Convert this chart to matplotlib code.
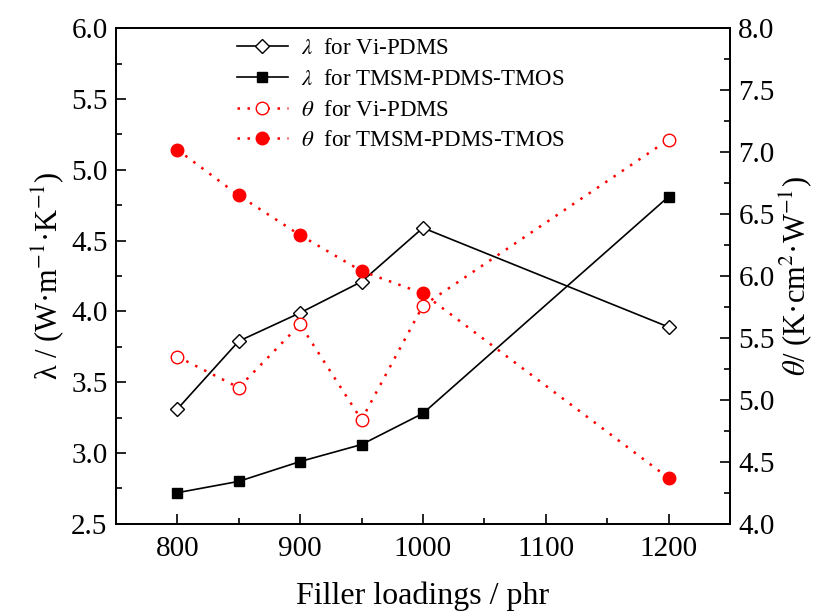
import matplotlib
matplotlib.use('Agg')
import matplotlib.pyplot as plt

plt.rcParams['font.family'] = ['Liberation Serif', 'DejaVu Serif']
plt.rcParams['mathtext.fontset'] = 'stix'

loading = [800, 850, 900, 950, 1000, 1200]
lam_vi = [3.31, 3.79, 3.99, 4.21, 4.59, 3.89]
lam_tmsm = [2.72, 2.80, 2.94, 3.06, 3.28, 4.81]
theta_vi = [5.35, 5.10, 5.61, 4.84, 5.76, 7.10]
theta_tmsm = [7.02, 6.65, 6.33, 6.04, 5.86, 4.37]

fig = plt.figure(figsize=(8.22, 6.12), dpi=100)
ax = fig.add_axes([0.141, 0.144, 0.747, 0.810])
ax2 = ax.twinx()

l1, = ax.plot(loading, lam_vi, color='black', lw=1.2, marker='D', ms=7,
              mfc='white', mec='black', label=r'$\lambda$  for Vi-PDMS')
l2, = ax.plot(loading, lam_tmsm, color='black', lw=1.2, marker='s', ms=7,
              mfc='black', label=r'$\lambda$  for TMSM-PDMS-TMOS')
l3, = ax2.plot(loading, theta_vi, color='red', lw=1.8, ls=(0, (1, 3)), marker='o', ms=9,
               mfc='white', mec='red', label=r'$\theta$  for Vi-PDMS')
l4, = ax2.plot(loading, theta_tmsm, color='red', lw=1.8, ls=(0, (1, 3)), marker='o', ms=9,
               mfc='red', mec='red', label=r'$\theta$  for TMSM-PDMS-TMOS')

ax.set_xlim(750, 1250)
ax.set_ylim(2.5, 6.0)
ax2.set_ylim(4.0, 8.0)
ax.set_xticks([800, 900, 1000, 1100, 1200])
ax.set_xticks([850, 950, 1050, 1150], minor=True)
ax.set_yticks([2.5, 3.0, 3.5, 4.0, 4.5, 5.0, 5.5, 6.0])
ax.set_yticks([2.75, 3.25, 3.75, 4.25, 4.75, 5.25, 5.75], minor=True)
ax2.set_yticks([4.0, 4.5, 5.0, 5.5, 6.0, 6.5, 7.0, 7.5, 8.0])
ax2.set_yticks([4.25, 4.75, 5.25, 5.75, 6.25, 6.75, 7.25, 7.75], minor=True)
ax.yaxis.set_major_formatter(matplotlib.ticker.FormatStrFormatter('%.1f'))
ax2.yaxis.set_major_formatter(matplotlib.ticker.FormatStrFormatter('%.1f'))

for a in (ax, ax2):
    a.tick_params(which='major', direction='in', length=7, width=1.2, labelsize=21)
    a.tick_params(which='minor', direction='in', length=4, width=1.2)
    for s in a.spines.values():
        s.set_linewidth(1.3)
ax.tick_params(axis='x', pad=9)
ax.tick_params(axis='y', pad=6)
ax2.tick_params(axis='y', pad=6)

ax.set_xlabel('Filler loadings / phr', fontsize=23, labelpad=14)
ax.set_ylabel(r'λ / (W·m$^{-1}$·K$^{-1}$)', fontsize=22, labelpad=4)
ax2.set_ylabel(r'$\theta$/ (K·cm$^{2}$·W$^{-1}$)', fontsize=22, labelpad=2)

ax.legend(handles=[l1, l2, l3, l4], loc='upper left', bbox_to_anchor=(0.175, 1.007),
          borderaxespad=0.2, frameon=False, fontsize=16.5, handlelength=2.2,
          handletextpad=0.6, labelspacing=0.42)

fig.savefig('out.png', dpi=100)
